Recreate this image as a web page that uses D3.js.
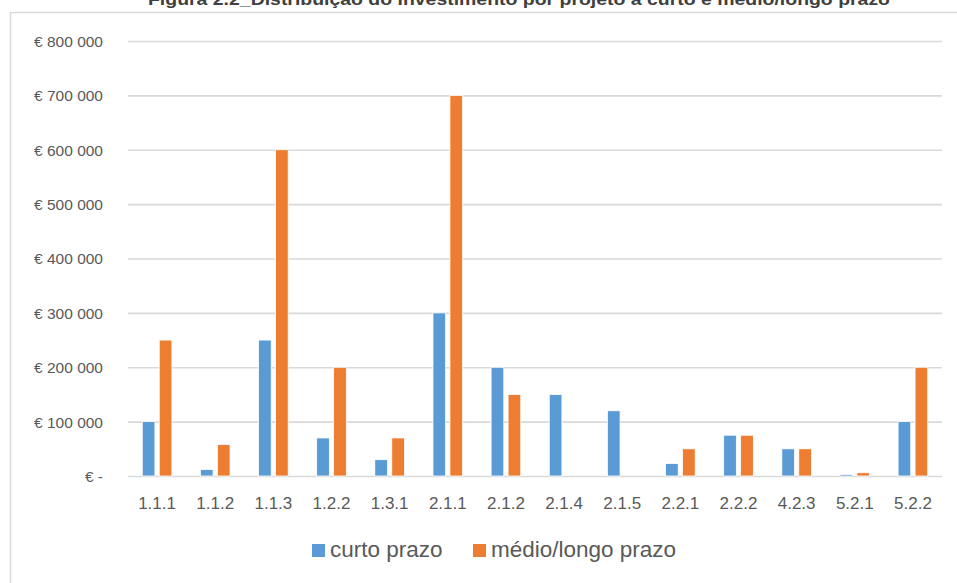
<!DOCTYPE html>
<html>
<head>
<meta charset="utf-8">
<script src="https://cdn.jsdelivr.net/npm/d3@7"></script>
<style>
  html, body { margin: 0; padding: 0; background: #fff; }
  svg { display: block; }
</style>
</head>
<body>
<svg id="chart" width="957" height="583"></svg>
<script>
// Project codes along the x axis
const projects = ["1.1.1", "1.1.2", "1.1.3", "1.2.2", "1.3.1", "2.1.1", "2.1.2",
                  "2.1.4", "2.1.5", "2.2.1", "2.2.2", "4.2.3", "5.2.1", "5.2.2"];
// Investment per project (EUR)
const curtoPrazo = [100000, 12000, 250000, 70000, 30000, 300000, 200000,
                    150000, 120000, 23000, 75000, 50000, 3000, 100000];
const medioLongoPrazo = [250000, 58000, 600000, 200000, 70000, 700000, 150000,
                         0, 0, 50000, 75000, 50000, 6000, 200000];
const seriesNames = ["curto prazo", "médio/longo prazo"];
const seriesColors = ["#5B9BD5", "#ED7D31"];
const yTicks = [0, 100000, 200000, 300000, 400000, 500000, 600000, 700000, 800000];

const titleText = "Figura 2.2_Distribuição do investimento por projeto a curto e médio/longo prazo";

const svg = d3.select("#chart");
const font = "'Liberation Sans', Arial, sans-serif";
const textColor = "#595959";
const gridColor = "#d9d9d9";

// Chart area frame (only left and top edges fall inside the view)
svg.append("rect")
  .attr("x", 10.5).attr("y", 12.5)
  .attr("width", 980).attr("height", 620)
  .attr("fill", "#fff")
  .attr("stroke", gridColor)
  .attr("stroke-width", 1.5);

// Title above the chart frame
svg.append("text")
  .attr("x", 519).attr("y", 5)
  .attr("text-anchor", "middle")
  .attr("font-family", font)
  .attr("font-weight", "bold")
  .attr("font-size", 17)
  .attr("fill", "#404040")
  .attr("textLength", 742)
  .attr("lengthAdjust", "spacingAndGlyphs")
  .text(titleText);

const plot = { left: 128, right: 942, top: 41, bottom: 476 };

const x0 = d3.scaleBand()
  .domain(projects)
  .range([plot.left, plot.right])
  .paddingInner(0).paddingOuter(0);

const groupW = x0.bandwidth() * 0.51;
const x1 = d3.scaleBand()
  .domain(seriesNames)
  .range([(x0.bandwidth() - groupW) / 2, (x0.bandwidth() + groupW) / 2])
  .paddingInner(0.253).paddingOuter(0);

const y = d3.scaleLinear()
  .domain([0, 800000])
  .range([plot.bottom, plot.top]);

// Gridlines and y labels
const yAxis = d3.axisLeft(y)
  .tickValues(yTicks)
  .tickSize(-(plot.right - plot.left))
  .tickPadding(25)
  .tickFormat(v => v === 0 ? "€ -" : "€ " + d3.format(",")(v).replace(/,/g, " "));

const gy = svg.append("g")
  .attr("transform", `translate(${plot.left},0)`)
  .call(yAxis);
gy.select(".domain").remove();
gy.selectAll(".tick line")
  .attr("stroke", gridColor)
  .attr("stroke-width", 1.6);
gy.selectAll(".tick text")
  .attr("font-family", font)
  .attr("font-size", 15.5)
  .attr("fill", textColor)
  .attr("dy", "0.35em");

// Bars
const rows = projects.map((p, i) => ({
  project: p,
  values: [
    { name: seriesNames[0], value: curtoPrazo[i], color: seriesColors[0] },
    { name: seriesNames[1], value: medioLongoPrazo[i], color: seriesColors[1] }
  ]
}));

const groups = svg.append("g")
  .selectAll("g")
  .data(rows)
  .join("g")
  .attr("transform", d => `translate(${x0(d.project)},0)`);

groups.selectAll("rect")
  .data(d => d.values.filter(v => v.value > 0))
  .join("rect")
  .attr("x", d => x1(d.name))
  .attr("width", x1.bandwidth())
  .attr("y", d => y(d.value))
  .attr("height", d => y(0) - y(d.value))
  .attr("fill", d => d.color)
  .attr("stroke", "#fff")
  .attr("stroke-width", 0.8);

// X axis labels
const xAxis = d3.axisBottom(x0).tickSize(0).tickPadding(21);
const gx = svg.append("g")
  .attr("transform", `translate(0,${plot.bottom})`)
  .call(xAxis);
gx.select(".domain").remove();
gx.selectAll(".tick text")
  .attr("font-family", font)
  .attr("font-size", 17)
  .attr("fill", textColor);

// Legend
const legendItems = [
  { name: seriesNames[0], color: seriesColors[0], x: 312 },
  { name: seriesNames[1], color: seriesColors[1], x: 473 }
];
const lg = svg.append("g");
legendItems.forEach(it => {
  lg.append("rect")
    .attr("x", it.x).attr("y", 544)
    .attr("width", 13).attr("height", 13)
    .attr("fill", it.color);
  lg.append("text")
    .attr("x", it.x + 18).attr("y", 557)
    .attr("font-family", font)
    .attr("font-size", 22.5)
    .attr("fill", textColor)
    .text(it.name);
});
</script>
</body>
</html>
